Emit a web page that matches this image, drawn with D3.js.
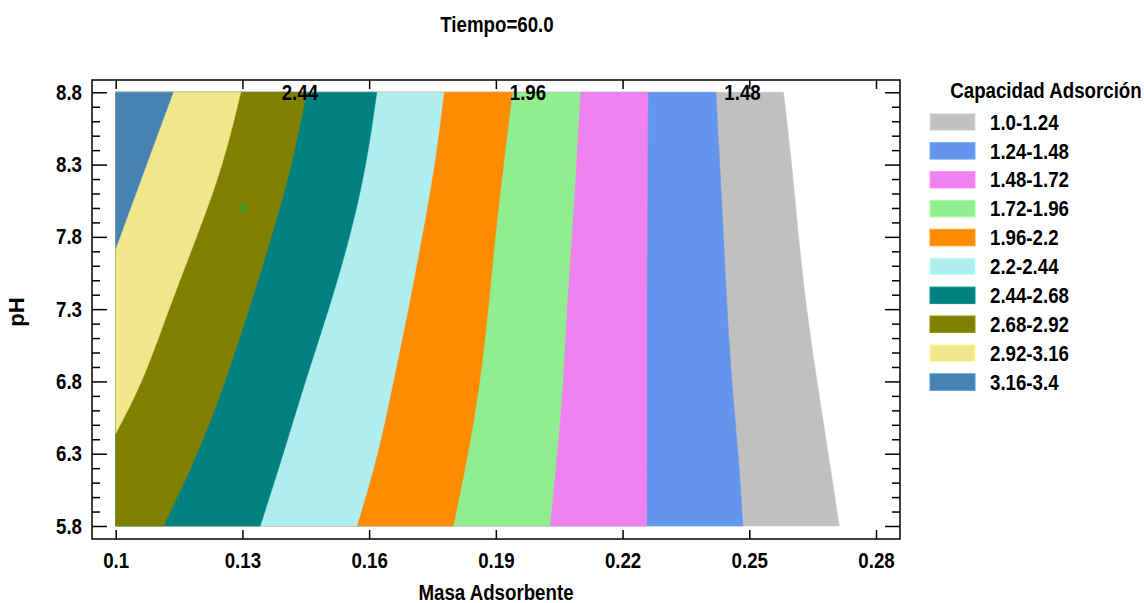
<!DOCTYPE html>
<head>
    <title>Contornos - Capacidad Adsorción</title>
    <script src="https://d3js.org/d3.v7.min.js"></script>
    <style>
        body { margin: 0; background: #fff; }
        text { font-family: "Liberation Sans", Arial, sans-serif; font-weight: bold; fill: #000; }
    </style>
</head>
<body>
<div id="home"></div>
<script>
// contour lines: [masa adsorbente, pH]
const c100 = [[0.2713,5.8],[0.2687,6.3],[0.2660,6.8],[0.2635,7.3],[0.2616,7.8],[0.2601,8.3],[0.2581,8.8]];
const c124 = [[0.2485,5.8],[0.2474,6.3],[0.2458,6.8],[0.2447,7.3],[0.2439,7.8],[0.2430,8.3],[0.2421,8.8]];
const c148 = [[0.2257,5.8],[0.2257,6.3],[0.2257,6.8],[0.2257,7.3],[0.2258,7.8],[0.2259,8.3],[0.2260,8.8]];
const c172 = [[0.2028,5.8],[0.2045,6.3],[0.2060,6.8],[0.2067,7.3],[0.2080,7.8],[0.2090,8.3],[0.2100,8.8]];
const c196 = [[0.1799,5.8],[0.1835,6.3],[0.1863,6.8],[0.1882,7.3],[0.1898,7.8],[0.1918,8.3],[0.1939,8.8]];
const c220 = [[0.1571,5.8],[0.1622,6.3],[0.1657,6.8],[0.1693,7.3],[0.1725,7.8],[0.1756,8.3],[0.1777,8.8]];
const c244 = [[0.1342,5.8],[0.1397,6.3],[0.1448,6.8],[0.1505,7.3],[0.1555,7.8],[0.1594,8.3],[0.1618,8.8]];
const c268 = [[0.1113,5.8],[0.1195,6.3],[0.1260,6.8],[0.1316,7.3],[0.1369,7.8],[0.1418,8.3],[0.1452,8.8]];
const c292 = [[0.1,6.44],[0.1065,6.8],[0.1125,7.3],[0.1192,7.8],[0.1255,8.3],[0.1296,8.8]];
const c316 = [[0.1,7.72],[0.101,7.8],[0.1073,8.3],[0.1136,8.8]];

const bandLabels = ["1.0-1.24","1.24-1.48","1.48-1.72","1.72-1.96","1.96-2.2","2.2-2.44","2.44-2.68","2.68-2.92","2.92-3.16","3.16-3.4"];
const xTicks = [0.1, 0.13, 0.16, 0.19, 0.22, 0.25, 0.28];
const yTicks = [5.8, 6.3, 6.8, 7.3, 7.8, 8.3, 8.8];
const lineLabels = ["2.44", "1.96", "1.48"];
const lineLabelMasa = [0.1436, 0.1976, 0.2484];
const designPoint = [0.13, 8.0];

const bandColors = ["#c0c0c0","#6495ed","#ee82ee","#90ee90","#ff8c00","#afeeee","#008080","#808000","#f0e68c","#4682b4"];
const contours = [c100, c124, c148, c172, c196, c220, c244, c268, c292, c316];

const w = 1144, h = 603;
const svg = d3.select("#home").append("svg").attr("width", w).attr("height", h);

const x = d3.scaleLinear().domain([0.1, 0.28]).range([115.7, 876]);
const y = d3.scaleLinear().domain([5.8, 8.8]).range([526, 92.3]);

// squeeze text horizontally around its anchor (narrow bold look)
function narrow(sel){
    sel.attr("transform", function(){
        const tx = +this.getAttribute("x") || 0, ty = +this.getAttribute("y") || 0;
        return "translate(" + tx + "," + ty + ") scale(0.85,1) translate(" + (-tx) + "," + (-ty) + ")";
    });
}

// filled bands: paint region left of each contour, low level first
const line = d3.line().x(d => x(d[0])).y(d => y(d[1])).curve(d3.curveBasis);
contours.forEach(function(c, i){
    const d = line(c) + "L" + x(0.1) + "," + y(8.8) + "L" + x(0.1) + "," + y(c[0][1]) + "Z";
    svg.append("path")
       .attr("d", d)
       .attr("fill", bandColors[i])
       .attr("stroke", bandColors[i])
       .attr("stroke-width", 0.5);
});

// contour labels on top edge
svg.selectAll(".clabel")
   .data(lineLabels)
   .enter()
   .append("text")
   .attr("class", "clabel")
   .attr("x", (d, i) => x(lineLabelMasa[i]))
   .attr("y", y(8.8))
   .attr("dy", "0.36em")
   .attr("text-anchor", "middle")
   .style("font-size", "22px")
   .text(d => d)
   .call(narrow);

// design point
svg.append("path")
   .attr("d", d3.symbol(d3.symbolPlus, 45)())
   .attr("transform", "translate(" + x(designPoint[0]) + "," + y(designPoint[1]) + ")")
   .attr("fill", "none")
   .attr("stroke", "#2a9d2a")
   .attr("stroke-width", 2);

// frame
const L = 92, R = 900, T = 80, B = 539;
svg.append("rect")
   .attr("x", L).attr("y", T).attr("width", R - L).attr("height", B - T)
   .attr("fill", "none").attr("stroke", "#000").attr("stroke-width", 1.5);

const yMinor = y.ticks(30).filter(v => !yTicks.some(t => Math.abs(t - v) < 1e-6));

function styleAxis(g){
    g.select(".domain").remove();
    g.selectAll(".tick line").attr("stroke", "#000").attr("stroke-width", 1.5);
    g.selectAll(".tick text").style("font-size", "22px").attr("fill", "#000").call(narrow);
}

svg.append("g").attr("transform", "translate(0," + B + ")")
   .call(d3.axisBottom(x).tickValues(xTicks).tickSizeInner(-9).tickSizeOuter(0).tickPadding(13).tickFormat(d3.format("")))
   .call(styleAxis);
svg.append("g").attr("transform", "translate(0," + T + ")")
   .call(d3.axisTop(x).tickValues(xTicks).tickSizeInner(-9).tickSizeOuter(0).tickFormat(""))
   .call(styleAxis);
svg.append("g").attr("transform", "translate(" + L + ",0)")
   .call(d3.axisLeft(y).tickValues(yTicks).tickSizeInner(-15).tickSizeOuter(0).tickPadding(10).tickFormat(d3.format(".1f")))
   .call(styleAxis);
svg.append("g").attr("transform", "translate(" + L + ",0)")
   .call(d3.axisLeft(y).tickValues(yMinor).tickSizeInner(-8).tickSizeOuter(0).tickFormat(""))
   .call(styleAxis);
svg.append("g").attr("transform", "translate(" + R + ",0)")
   .call(d3.axisRight(y).tickValues(yTicks).tickSizeInner(-15).tickSizeOuter(0).tickFormat(""))
   .call(styleAxis);
svg.append("g").attr("transform", "translate(" + R + ",0)")
   .call(d3.axisRight(y).tickValues(yMinor).tickSizeInner(-8).tickSizeOuter(0).tickFormat(""))
   .call(styleAxis);

// titles
svg.append("text").attr("x", 497).attr("y", 32).attr("text-anchor", "middle")
   .style("font-size", "22px").text("Tiempo=60.0").call(narrow);
svg.append("text").attr("x", 496).attr("y", 600).attr("text-anchor", "middle")
   .style("font-size", "22px").text("Masa Adsorbente").call(narrow);
svg.append("text").attr("transform", "translate(24,312) rotate(-90)").attr("text-anchor", "middle")
   .style("font-size", "22px").text("pH");

// legend
const lg = svg.append("g");
lg.append("text").attr("x", 1046).attr("y", 98).attr("text-anchor", "middle")
  .style("font-size", "22px").text("Capacidad Adsorción").call(narrow);
const rows = lg.selectAll(".row")
   .data(bandLabels)
   .enter()
   .append("g")
   .attr("class", "row")
   .attr("transform", (d, i) => "translate(930," + (121.7 + i * 28.9) + ")");
rows.append("rect")
    .attr("x", 0).attr("y", -8).attr("width", 45).attr("height", 16.5)
    .attr("fill", (d, i) => bandColors[i])
    .attr("stroke", (d, i) => d3.color(bandColors[i]).brighter(0.4))
    .attr("stroke-width", 1);
rows.append("text")
    .attr("x", 60).attr("y", 0).attr("dy", "0.36em")
    .style("font-size", "22px")
    .text(d => d)
    .call(narrow);
</script>
</body>
